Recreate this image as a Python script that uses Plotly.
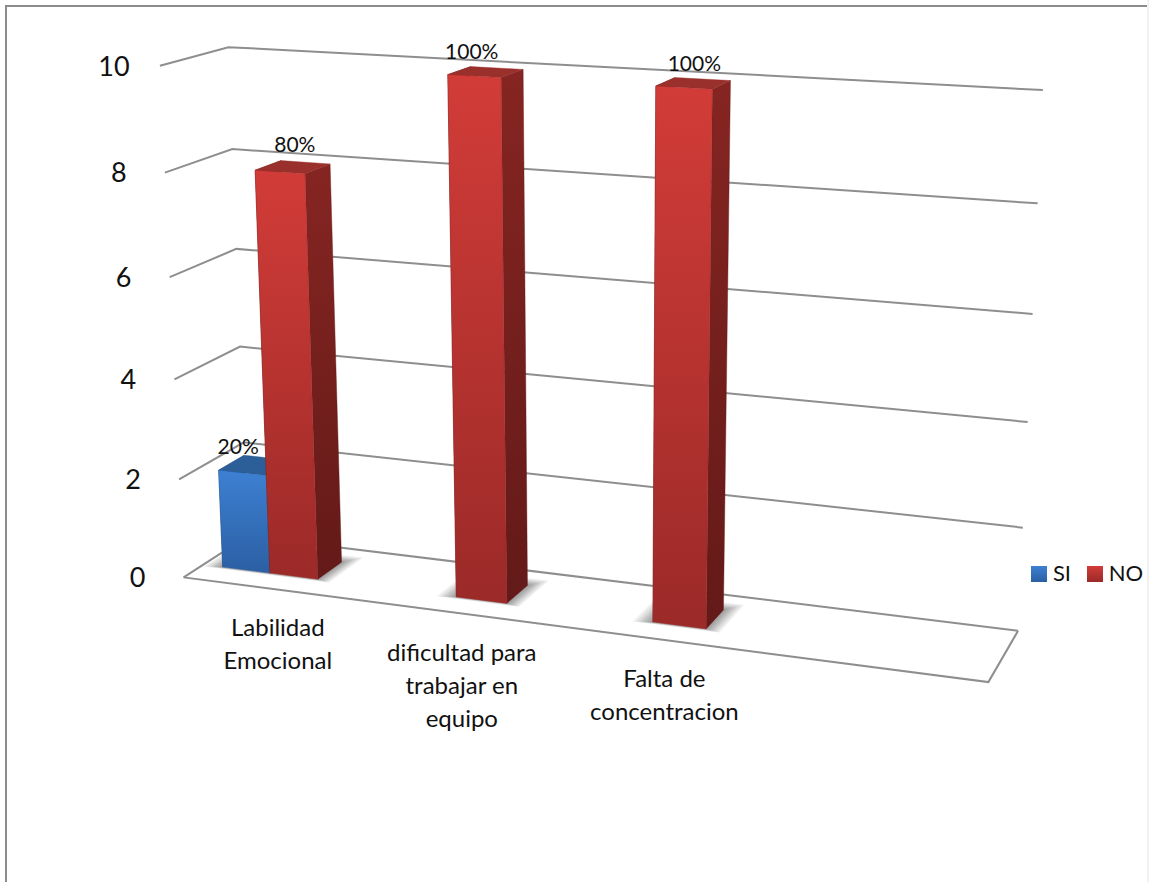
import numpy as np
import plotly.graph_objects as go

# Chart data
categories = ["Labilidad<br>Emocional", "dificultad para<br>trabajar en<br>equipo", "Falta de<br>concentracion"]
si_values = [2, 0, 0]
no_values = [8, 10, 10]
y_ticks = [0, 2, 4, 6, 8, 10]
series_names = ["SI", "NO"]

# Oblique view of the plot box: x runs over 4 category slots, z over the depth,
# y over the value axis. Anchors are the screen positions of the box edges at each tick.
left_front = [(184, 576), (179, 480), (175, 379), (170, 278), (164, 173), (159, 66)]
left_back = [(247, 537), (243, 443), (240, 346), (237, 248), (233, 149), (229, 47)]
right_back = [(1018, 631), (1023, 527), (1027, 423), (1032, 314), (1038, 203), (1043, 90)]
right_front_floor = (989, 682)


def fit_camera():
    rows = []
    def add(X, Y, Z, u, v):
        u, v = u / 1000, v / 1000
        rows.append([X, Y, Z, 1, 0, 0, 0, 0, -u * X, -u * Y, -u * Z, -u])
        rows.append([0, 0, 0, 0, X, Y, Z, 1, -v * X, -v * Y, -v * Z, -v])
    for t, a, b, c in zip(y_ticks, left_front, left_back, right_back):
        add(0, t, 0, *a)
        add(0, t, 1, *b)
        add(4, t, 1, *c)
    add(4, 0, 0, *right_front_floor)
    return np.linalg.svd(np.array(rows))[2][-1].reshape(3, 4)


CAM = fit_camera()


def project(x, y, z):
    p = CAM @ np.array([x, y, z, 1.0])
    return p[0] / p[2] * 1000, p[1] / p[2] * 1000


def polygon(points):
    xy = [project(*pt) for pt in points]
    return [q[0] for q in xy] + [xy[0][0]], [q[1] for q in xy] + [xy[0][1]]


fig = go.Figure()


def add_line(points, color="#8E8E8E", width=2):
    xs, ys = zip(*[project(*pt) for pt in points])
    fig.add_trace(go.Scatter(x=xs, y=ys, mode="lines", line=dict(color=color, width=width),
                             hoverinfo="skip", showlegend=False))


def add_face(points, top, bottom=None):
    xs, ys = polygon(points)
    style = dict(fillcolor=top)
    edge = top
    if bottom:
        style = dict(fillgradient=dict(type="vertical", colorscale=[[0, bottom], [1, top]]))
        edge = bottom
    fig.add_trace(go.Scatter(x=xs, y=ys, mode="lines", fill="toself", line=dict(width=0.4, color=edge),
                             hoverinfo="skip", showlegend=False, **style))


# Walls and floor
for t in y_ticks:
    add_line([(0, t, 0), (0, t, 1), (4, t, 1)])
add_line([(4, 0, 1), (4, 0, 0), (0, 0, 0)])

BAR_W = 0.262
BAR_MID = 0.37
Z0, Z1 = 0.3, 0.7
RED = dict(front=("#D23C38", "#9B2A28"), side=("#862522", "#631A18"), top="#99302C")
BLUE = dict(front=("#3D80D2", "#2B5FA3"), side=("#2A5A96", "#1E4475"), top="#2C5F98")


def add_shadow(x0, x1):
    # Soft contact shadow built from nested translucent footprints
    for m in [0.09, 0.075, 0.06, 0.048, 0.036, 0.024, 0.012]:
        mz = m * 2.0
        xs, ys = polygon([(x0 - m, 0, Z0 - mz * 0.2), (x1 + m * 0.8, 0, Z0 - mz * 0.2),
                          (x1 + m * 0.8, 0, Z1 + mz * 0.8), (x0 - m, 0, Z1 + mz * 0.8)])
        fig.add_trace(go.Scatter(x=xs, y=ys, mode="lines", fill="toself", line=dict(width=0),
                                 fillcolor="rgba(60,60,60,0.085)", hoverinfo="skip", showlegend=False))


def add_bar(x0, x1, h, c):
    add_face([(x0, 0, Z0), (x0, h, Z0), (x0, h, Z1), (x0, 0, Z1)], *c["side"])
    add_face([(x1, 0, Z0), (x1, h, Z0), (x1, h, Z1), (x1, 0, Z1)], *c["side"])
    add_face([(x0, h, Z0), (x1, h, Z0), (x1, h, Z1), (x0, h, Z1)], c["top"])
    add_face([(x0, 0, Z0), (x1, 0, Z0), (x1, h, Z0), (x0, h, Z0)], *c["front"])


for i in range(len(categories)):
    lo = i + BAR_MID - (BAR_W if si_values[i] else 0)
    add_shadow(lo, i + BAR_MID + BAR_W)

for i, (s, n) in enumerate(zip(si_values, no_values)):
    if s:
        add_bar(i + BAR_MID - BAR_W, i + BAR_MID, s, BLUE)
    add_bar(i + BAR_MID, i + BAR_MID + BAR_W, n, RED)

# Value labels above the bars, each with a small placement nudge
label_nudges = iter([(-17, -17), (2, -20), (-14, -18), (1, -18)])
label_x, label_y, label_text = [], [], []
for i, (s, n) in enumerate(zip(si_values, no_values)):
    for v, mid in ((s, i + BAR_MID - BAR_W / 2), (n, i + BAR_MID + BAR_W / 2)):
        if v:
            px, py = project(mid, v, 0.5)
            dx, dy = next(label_nudges)
            label_x.append(px + dx)
            label_y.append(py + dy)
            label_text.append(f"{v * 10}%")
fig.add_trace(go.Scatter(x=label_x, y=label_y, text=label_text, mode="text",
                         textfont=dict(family="Lato", size=21, color="#111111"),
                         hoverinfo="skip", showlegend=False))

# Value axis labels
tx, ty = [], []
for t in y_ticks:
    px, py = project(0, t, 0)
    tx.append(px - 46)
    ty.append(py + 3)
fig.add_trace(go.Scatter(x=tx, y=ty, text=[str(t) for t in y_ticks], mode="text",
                         textfont=dict(family="Lato", size=27, color="#111111"),
                         hoverinfo="skip", showlegend=False))

# Category labels, one text item per line
cx, cy, ct = [], [], []
for i, (name, dx) in enumerate(zip(categories, (3, -3, -1))):
    px, py = project(i + 0.5, 0, 0)
    for k, part in enumerate(name.split("<br>")):
        cx.append(px + dx)
        cy.append(py + 41 + k * 33)
        ct.append(part)
fig.add_trace(go.Scatter(x=cx, y=cy, text=ct, mode="text",
                         textfont=dict(family="Lato", size=24, color="#111111"),
                         hoverinfo="skip", showlegend=False))

# Chart frame
fig.add_trace(go.Scatter(x=[6, 6, 1147], y=[882, 6, 6], mode="lines",
                         line=dict(color="#8C8C8C", width=2), hoverinfo="skip", showlegend=False))
fig.add_trace(go.Scatter(x=[1148, 1148], y=[0, 882], mode="lines",
                         line=dict(color="#E6E6E6", width=1), hoverinfo="skip", showlegend=False))

# Legend swatches with their names
for name, c, sx, tx0 in zip(series_names, (BLUE, RED), (1039, 1095), (1062, 1126)):
    fig.add_trace(go.Scatter(x=[sx], y=[574], mode="markers",
                             marker=dict(symbol="square", size=16, color=c["front"][0], line=dict(width=0),
                                         gradient=dict(type="vertical", color=c["front"][1])),
                             hoverinfo="skip", showlegend=False))
    fig.add_trace(go.Scatter(x=[tx0], y=[575], text=[name], mode="text",
                             textfont=dict(family="Lato", size=22, color="#111111"),
                             hoverinfo="skip", showlegend=False))

fig.update_layout(
    width=1149, height=882, margin=dict(l=0, r=0, t=0, b=0),
    paper_bgcolor="white", plot_bgcolor="white", showlegend=False,
    xaxis=dict(range=[0, 1149], visible=False, fixedrange=True),
    yaxis=dict(range=[882, 0], visible=False, fixedrange=True),
)
fig.write_html("out.html")
